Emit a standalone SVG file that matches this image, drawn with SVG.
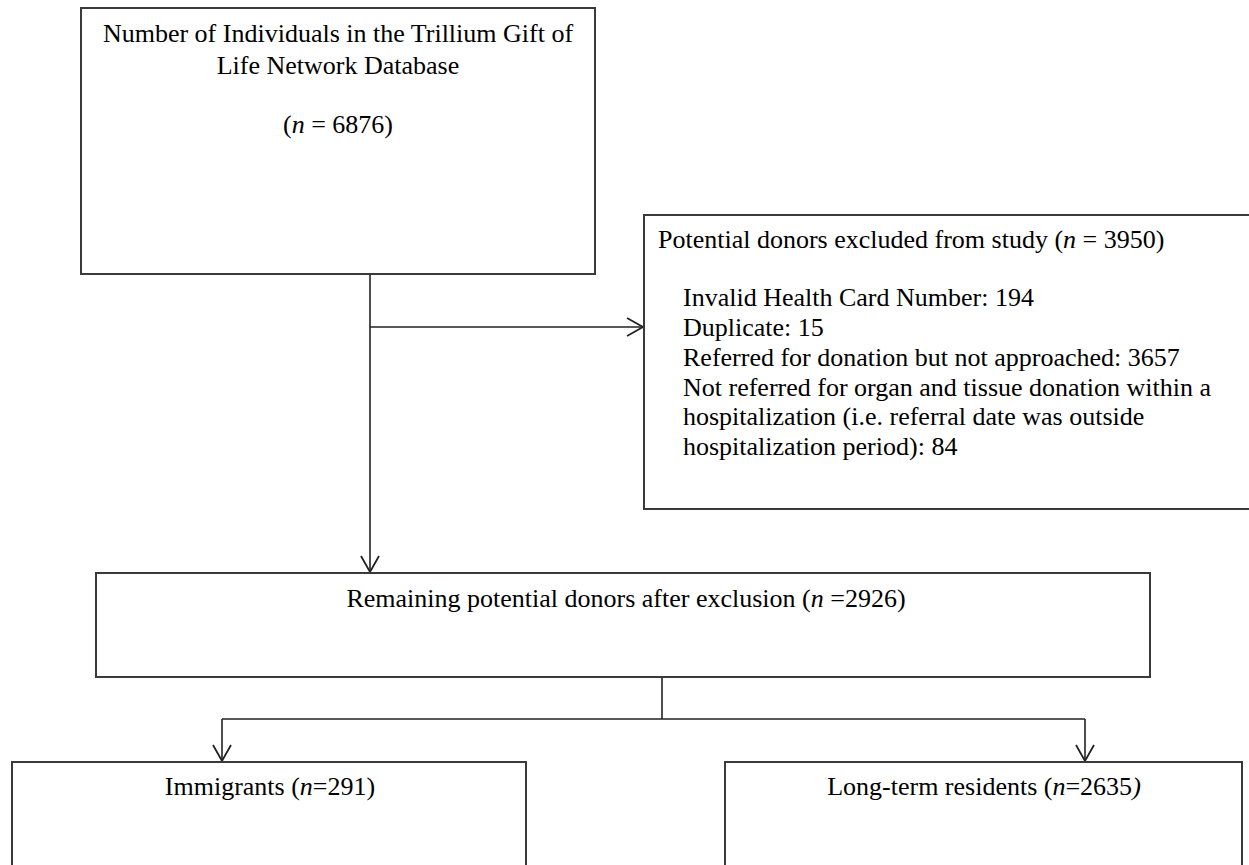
<svg xmlns="http://www.w3.org/2000/svg" width="1249" height="865" viewBox="0 0 1249 865">
<defs>
<style>
.box{fill:#fff;stroke:#3a3a3a;stroke-width:2}
.t{font-family:"Liberation Serif","Times New Roman",serif;font-size:26px;fill:#000}
.c{text-anchor:middle}
.conn{fill:none;stroke:#222;stroke-width:1.6}
</style>
<marker id="arr" markerUnits="userSpaceOnUse" markerWidth="20" markerHeight="22" refX="17" refY="10" orient="auto">
<path d="M1,1 L17,10 L1,19" fill="none" stroke="#222" stroke-width="1.8"/>
</marker>
</defs>
<rect width="1249" height="865" fill="#fff"/>
<g id="connectors">
<path class="conn" d="M370,274 V572" marker-end="url(#arr)"/>
<path class="conn" d="M370,327 H643" marker-end="url(#arr)"/>
<path class="conn" d="M662,677 V719"/>
<path class="conn" d="M222,719 H1085"/>
<path class="conn" d="M222,719 V761" marker-end="url(#arr)"/>
<path class="conn" d="M1085,719 V761" marker-end="url(#arr)"/>
</g>
<g id="n-total">
<rect class="box" x="81" y="8" width="514" height="266"/>
<text class="t c" x="338" y="42">Number of Individuals in the Trillium Gift of</text>
<text class="t c" x="338" y="74">Life Network Database</text>
<text class="t c" x="338" y="133">(<tspan font-style="italic">n</tspan> = 6876)</text>
</g>
<g id="n-excluded">
<rect class="box" x="644" y="215" width="620" height="294"/>
<text class="t" x="658" y="248">Potential donors excluded from study (<tspan font-style="italic">n</tspan> = 3950)</text>
<text class="t" x="683" y="306">Invalid Health Card Number: 194</text>
<text class="t" x="683" y="336">Duplicate: 15</text>
<text class="t" x="683" y="366">Referred for donation but not approached: 3657</text>
<text class="t" x="683" y="396">Not referred for organ and tissue donation within a</text>
<text class="t" x="683" y="425">hospitalization (i.e. referral date was outside</text>
<text class="t" x="683" y="455">hospitalization period): 84</text>
</g>
<g id="n-remaining">
<rect class="box" x="96" y="573" width="1054" height="104"/>
<text class="t c" x="626" y="607">Remaining potential donors after exclusion (<tspan font-style="italic">n</tspan> =2926)</text>
</g>
<g id="n-immigrants">
<rect class="box" x="12" y="762" width="514" height="120"/>
<text class="t c" x="270" y="795">Immigrants (<tspan font-style="italic">n</tspan>=291)</text>
</g>
<g id="n-residents">
<rect class="box" x="725" y="762" width="517" height="120"/>
<text class="t c" x="984" y="795">Long-term residents (<tspan font-style="italic">n</tspan>=2635<tspan font-style="italic">)</tspan></text>
</g>
</svg>
